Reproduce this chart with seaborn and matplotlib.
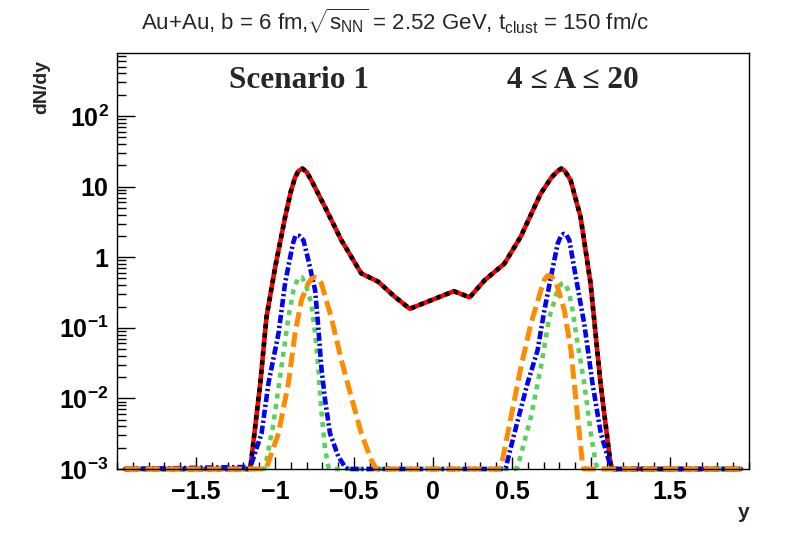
import numpy as np
import pandas as pd
import matplotlib
matplotlib.use("Agg")
import matplotlib.pyplot as plt
import matplotlib.ticker as mticker
import seaborn as sns

# ---------------- data ----------------
YMIN, YMAX = 1e-3, 780.0

total_x = [-1.95, -1.167, -1.155, -1.093, -1.054, -0.999, -0.936, -0.900, -0.873, -0.852,
           -0.826, -0.799, -0.770, -0.683, -0.580, -0.454, -0.347, -0.242, -0.147, 0.011,
           0.132, 0.232, 0.326, 0.452, 0.555, 0.681, 0.750, 0.789, 0.812, 0.835, 0.871,
           0.934, 0.997, 1.060, 1.123, 1.136, 1.95]
total_y = [0, 0, 0.00107, 0.0166, 0.141, 0.72, 3.7, 8.5, 13.5, 16.6,
           18.0, 16.0, 12.3, 5.1, 1.74, 0.59, 0.45, 0.275, 0.186, 0.257,
           0.33, 0.27, 0.47, 0.81, 1.95, 7.9, 13.5, 16.6, 18.0, 16.6, 12.3,
           3.7, 0.43, 0.0166, 0.0012, 0, 0]

blue_x = [-1.95, -1.156, -1.085, -1.041, -0.978, -0.936, -0.904, -0.885, -0.871, -0.845,
          -0.820, -0.789, -0.746, -0.726, -0.707, -0.683, -0.652, -0.599, -0.557, -0.54,
          0.45, 0.462, 0.515, 0.599, 0.662, 0.705, 0.746, 0.789, 0.810, 0.826, 0.845,
          0.863, 0.904, 0.957, 1.009, 1.062, 1.125, 1.14, 1.95]
blue_y = [0, 0.00107, 0.0032, 0.0166, 0.083, 0.43, 1.0, 1.6, 2.0, 2.0,
          1.74, 0.91, 0.34, 0.102, 0.028, 0.0095, 0.0032, 0.0015, 0.00107, 0,
          0, 0.00107, 0.0032, 0.0166, 0.048, 0.178, 0.52, 1.55, 2.0, 2.14, 2.05,
          1.74, 0.52, 0.115, 0.0166, 0.0032, 0.00107, 0, 0]

green_x = [-1.95, -1.07, -1.062, -1.009, -0.959, -0.915, -0.883, -0.852, -0.830, -0.809,
           -0.770, -0.746, -0.726, -0.707, -0.683, -0.662, -0.65, 0.52,
           0.536, 0.620, 0.683, 0.736, 0.789, 0.812, 0.835, 0.860, 0.883, 0.915, 0.957,
           0.999, 1.030, 1.045, 1.95]
green_y = [0, 0, 0.00107, 0.0045, 0.028, 0.141, 0.34, 0.52, 0.52, 0.43,
           0.224, 0.083, 0.028, 0.0068, 0.0019, 0.00107, 0, 0,
           0.00107, 0.0055, 0.028, 0.141, 0.34, 0.42, 0.43, 0.32, 0.178, 0.060, 0.0166,
           0.0032, 0.0012, 0, 0]

orange_x = [-1.95, -1.06, -1.052, -0.978, -0.915, -0.873, -0.833, -0.789, -0.766, -0.746,
            -0.726, -0.707, -0.644, -0.580, -0.517, -0.454, -0.391, -0.360, 0.42,
            0.431, 0.494, 0.557, 0.620, 0.683, 0.705, 0.726, 0.750, 0.778, 0.831, 0.873,
            0.915, 0.946, 0.955, 1.95]
orange_y = [0, 0, 0.00107, 0.0032, 0.0166, 0.083, 0.245, 0.43, 0.50, 0.52,
            0.50, 0.43, 0.141, 0.035, 0.0105, 0.0032, 0.00135, 0, 0,
            0.00107, 0.0055, 0.028, 0.115, 0.34, 0.48, 0.55, 0.53, 0.45, 0.178, 0.048,
            0.0055, 0.0012, 0, 0]

y_major = [1e-3, 1e-2, 1e-1, 1, 10, 100]
y_labels = [r"$\mathbf{10^{-3}}$", r"$\mathbf{10^{-2}}$", r"$\mathbf{10^{-1}}$", "1", "10",
            r"$\mathbf{10^{2}}$"]
x_major = [-1.5, -1, -0.5, 0, 0.5, 1, 1.5]
x_labels = ["\u22121.5", "\u22121", "\u22120.5", "0", "0.5", "1", "1.5"]

title = r"Au+Au, b = 6 fm,$\sqrt{s_{NN}}$ = 2.52 GeV, t$_{clust}$ = 150 fm/c"
label_left = "Scenario 1"
label_right = "4 \u2264 A \u2264 20"

# ---------------- style ----------------
sns.set_style("white")
plt.rcParams["font.family"] = ["Liberation Sans", "DejaVu Sans"]
plt.rcParams["mathtext.fontset"] = "custom"
plt.rcParams["mathtext.rm"] = "Liberation Sans"
plt.rcParams["mathtext.it"] = "Liberation Sans:italic"
plt.rcParams["mathtext.bf"] = "Liberation Sans:bold"
plt.rcParams["mathtext.default"] = "regular"

fig = plt.figure(figsize=(7.88, 5.34), dpi=100)
fig.patch.set_facecolor("white")
ax = fig.add_axes([117 / 788, 1 - 469 / 534, (749 - 117) / 788, (469 - 53) / 534])
ax.set_facecolor("white")


def df_of(xs, ys):
    return pd.DataFrame({"y": xs, "dndy": np.maximum(np.asarray(ys, float), YMIN)})


series = [
    (total_x, total_y, "#ff0000", 3.3, "-"),
    (total_x, total_y, "#000000", 3.3, (0, (1.0, 1.0))),
    (green_x, green_y, "#5ad25a", 3.3, (0, (1.1, 1.2))),
    (blue_x, blue_y, "#0000ff", 3.3, (0, (1.8, 0.6, 0.5, 0.6))),
    (orange_x, orange_y, "#ff8c00", 3.6, (0, (2.9, 1.2))),
]
for xs, ys, col, lw, ls in series:
    sns.lineplot(data=df_of(xs, ys), x="y", y="dndy", ax=ax, color=col, lw=lw,
                 linestyle=ls, estimator=None, sort=False, clip_on=False)

ax.set_yscale("log")
ax.set_xlim(-2, 2)
ax.set_ylim(YMIN, YMAX)

ax.xaxis.set_major_locator(mticker.FixedLocator(x_major))
ax.xaxis.set_major_formatter(mticker.FixedFormatter(x_labels))
ax.xaxis.set_minor_locator(mticker.MultipleLocator(0.1))
ax.yaxis.set_major_locator(mticker.FixedLocator(y_major))
ax.yaxis.set_major_formatter(mticker.FixedFormatter(y_labels))
ax.yaxis.set_minor_locator(mticker.LogLocator(base=10, subs=np.arange(2, 10)))
ax.yaxis.set_minor_formatter(mticker.NullFormatter())

ax.tick_params(axis="both", which="both", direction="in", colors="black",
               top=False, right=False, left=True, bottom=True)
ax.tick_params(axis="x", which="major", length=9, width=1, pad=8, labelsize=18)
ax.tick_params(axis="x", which="minor", length=5, width=1)
ax.tick_params(axis="y", which="major", length=13, width=1, pad=6, labelsize=18)
ax.tick_params(axis="y", which="minor", length=6.5, width=1)
for lab in ax.get_xticklabels() + ax.get_yticklabels():
    lab.set_fontweight("bold")

for sp in ax.spines.values():
    sp.set_color("black")
    sp.set_linewidth(1.0)
    sp.set_visible(True)

ax.set_xlabel("")
ax.set_ylabel("")

fig.text(42 / 788, 1 - 60 / 534, "dN/dy", rotation=90, ha="center", va="top",
         fontsize=14, fontweight="bold")
fig.text(749 / 788, 1 - 512 / 534, "y", ha="right", va="center",
         fontsize=15, fontweight="bold")
fig.text(395 / 788, 1 - 21 / 534, title, ha="center", va="center", fontsize=16)

fig.text(299 / 788, 1 - 80 / 534, label_left, ha="center", va="center",
         fontsize=22.5, fontweight="bold", family=["Liberation Serif", "DejaVu Serif"])
fig.text(573 / 788, 1 - 80 / 534, label_right, ha="center", va="center",
         fontsize=22.5, fontweight="bold", family=["Liberation Serif", "DejaVu Serif"])

fig.savefig("out.png", dpi=100, facecolor="white")
